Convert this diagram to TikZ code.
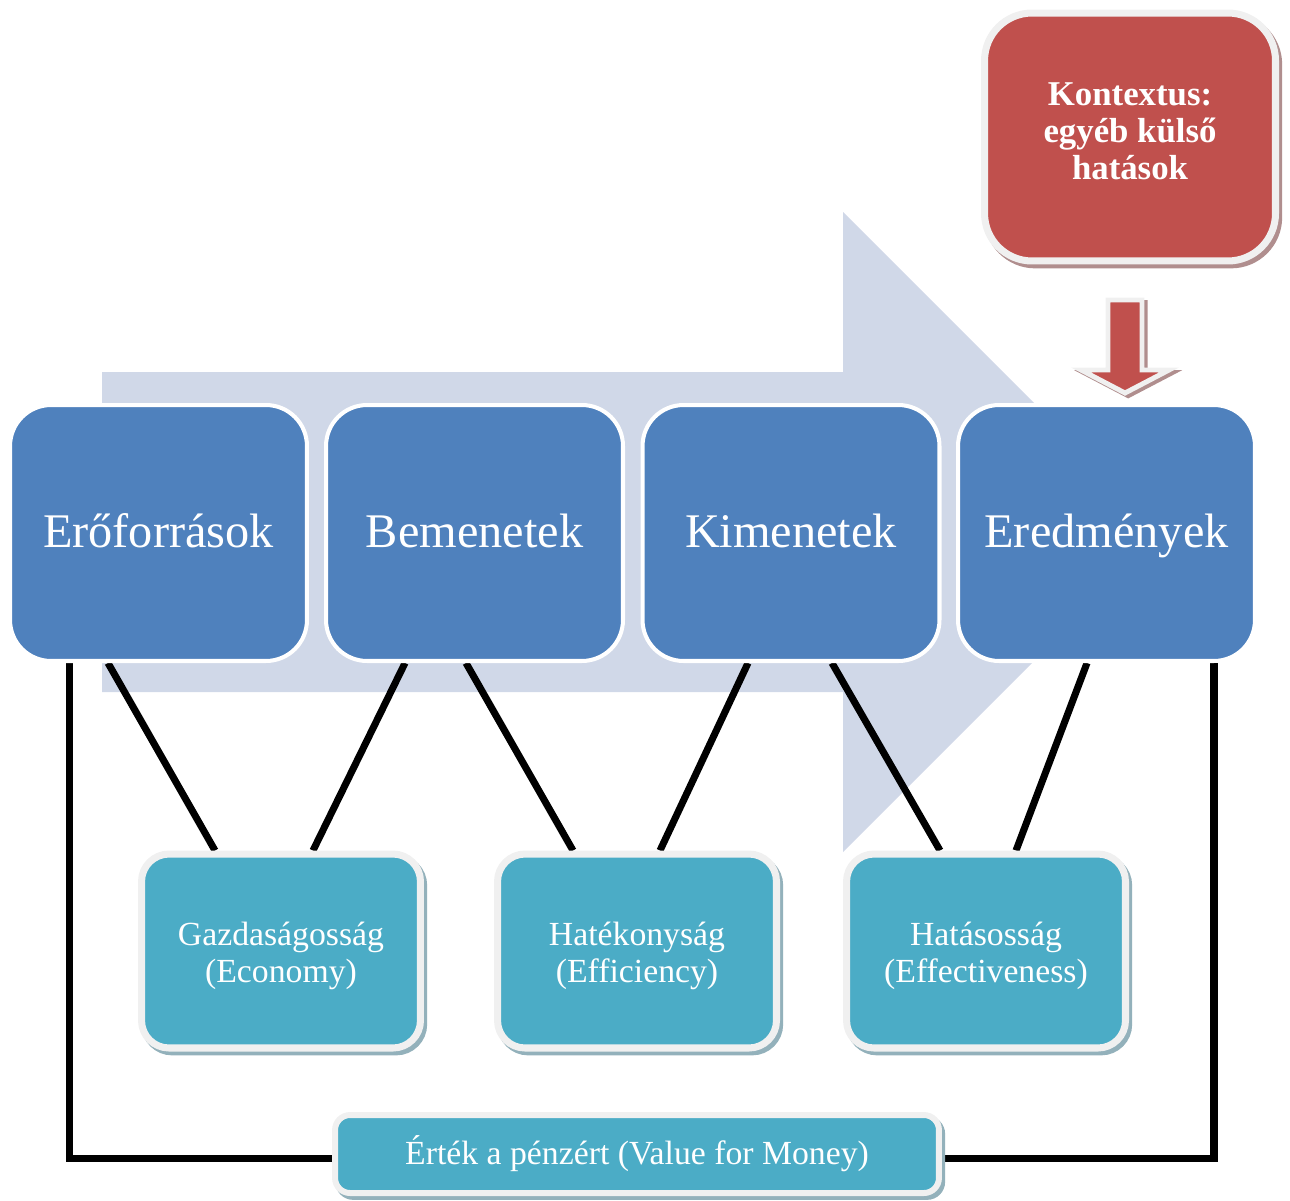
\documentclass[tikz,border=0pt]{standalone}
\usepackage{fontspec}
\setmainfont{Liberation Serif}
\usetikzlibrary{shadows}

\definecolor{flowbg}{HTML}{D0D8E8}
\definecolor{stageblue}{HTML}{4F81BD}
\definecolor{ctxred}{HTML}{C0504D}
\definecolor{critteal}{HTML}{4BACC6}
\definecolor{rim}{HTML}{F0F0F0}
\definecolor{tealshade}{HTML}{93B1BB}
\definecolor{redshade}{HTML}{B08E8E}

\pgfdeclarelayer{back}
\pgfdeclarelayer{mid}
\pgfsetlayers{back,mid,main}

\tikzset{
  stage/.style={rectangle, rounded corners=0.82cm, fill=stageblue, draw=white,
    line width=2.3pt, minimum width=5.94cm, minimum height=5.12cm, inner sep=0pt,
    text=white, font=\fontsize{27.5}{33}\selectfont, text height=23pt, text depth=6pt},
  criterion/.style={rectangle, rounded corners=0.55cm, fill=critteal, draw=rim,
    line width=4pt, minimum width=5.58cm, minimum height=3.88cm, inner sep=0pt,
    text=white, align=center, font=\fontsize{19.2}{21}\selectfont,
    drop shadow={shadow xshift=1.8pt, shadow yshift=-2.2pt, fill=tealshade,
      draw=tealshade, line width=4pt, opacity=1}},
  context/.style={rectangle, rounded corners=0.95cm, fill=ctxred, draw=rim,
    line width=4pt, minimum width=5.82cm, minimum height=4.96cm, inner sep=0pt,
    text=white, align=center, font=\fontsize{19.8}{21}\selectfont\bfseries,
    drop shadow={shadow xshift=1.8pt, shadow yshift=-2.2pt, fill=redshade,
      draw=redshade, line width=4pt, opacity=1}},
  vfmbox/.style={rectangle, rounded corners=0.3cm, fill=critteal, draw=rim,
    line width=3.4pt, minimum width=12.08cm, minimum height=1.56cm, inner sep=0pt,
    text=white, font=\fontsize{19.2}{21}\selectfont,
    drop shadow={shadow xshift=1.8pt, shadow yshift=-2.2pt, fill=tealshade,
      draw=tealshade, line width=3.4pt, opacity=1}},
  link/.style={draw=black, line width=4pt},
  influence/.style={fill=ctxred, draw=rim, line width=2.8pt, line join=miter,
    drop shadow={shadow xshift=1.8pt, shadow yshift=-1.5pt, fill=redshade,
      draw=redshade, line width=2.8pt, opacity=1}}
}

\begin{document}
\begin{tikzpicture}[x=0.02cm, y=-0.02cm]
  \useasboundingbox (0,0) rectangle (1290,1200);

  % stages of the chain
  \node[stage] (res) at (158.5,533) {Erőforrások};
  \node[stage] (inp) at (474.5,533) {Bemenetek};
  \node[stage] (outp) at (791,533) {Kimenetek};
  \node[stage] (resl) at (1106.5,533) {Eredmények};

  % external context
  \node[context] (ctx) at (1130,137) {Kontextus:\\egyéb külső\\hatások\vphantom{g}\\[-0.72em]};

  % evaluation criteria
  \node[criterion] (eco) at (281,951) {\\[-0.1em]Gazdaságosság\\(Economy)};
  \node[criterion] (eff) at (637,951) {\\[-0.1em]Hatékonyság\\(Efficiency)};
  \node[criterion] (efv) at (986,951) {\\[-0.1em]Hatásosság\\(Effectiveness)};
  \node[vfmbox] (vfm) at (637,1154) {Érték a pénzért (Value for Money)};

  % block arrow from the context box down to the results
  \draw[influence] (1108,300) -- (1142,300) -- (1142,370) -- (1169,370)
    -- (1125,393) -- (1081,370) -- (1108,370) -- cycle;

  % wide background arrow of the flow
  \begin{pgfonlayer}{back}
    \fill[flowbg] (102,372) -- (843,372) -- (843,212) -- (1163,532)
      -- (843,852) -- (843,692) -- (102,692) -- cycle;
  \end{pgfonlayer}

  % links between stages and criteria
  \begin{pgfonlayer}{mid}
    \draw[link] ([xshift=-1.01cm]res.south) -- ([xshift=-1.32cm]eco.north);
    \draw[link] ([xshift=-1.39cm]inp.south) -- ([xshift=0.64cm]eco.north);
    \draw[link] ([xshift=-0.17cm]inp.south) -- ([xshift=-1.28cm]eff.north);
    \draw[link] ([xshift=-0.86cm]outp.south) -- ([xshift=0.46cm]eff.north);
    \draw[link] ([xshift=0.82cm]outp.south) -- ([xshift=-0.92cm]efv.north);
    \draw[link] ([xshift=-0.39cm]resl.south) -- ([xshift=0.60cm]efv.north);
    \draw[link] ([xshift=-1.79cm]res.south) |- ([yshift=-0.08cm]vfm.west);
    \draw[link] ([xshift=2.15cm]resl.south) |- ([yshift=-0.08cm]vfm.east);
  \end{pgfonlayer}
\end{tikzpicture}
\end{document}
